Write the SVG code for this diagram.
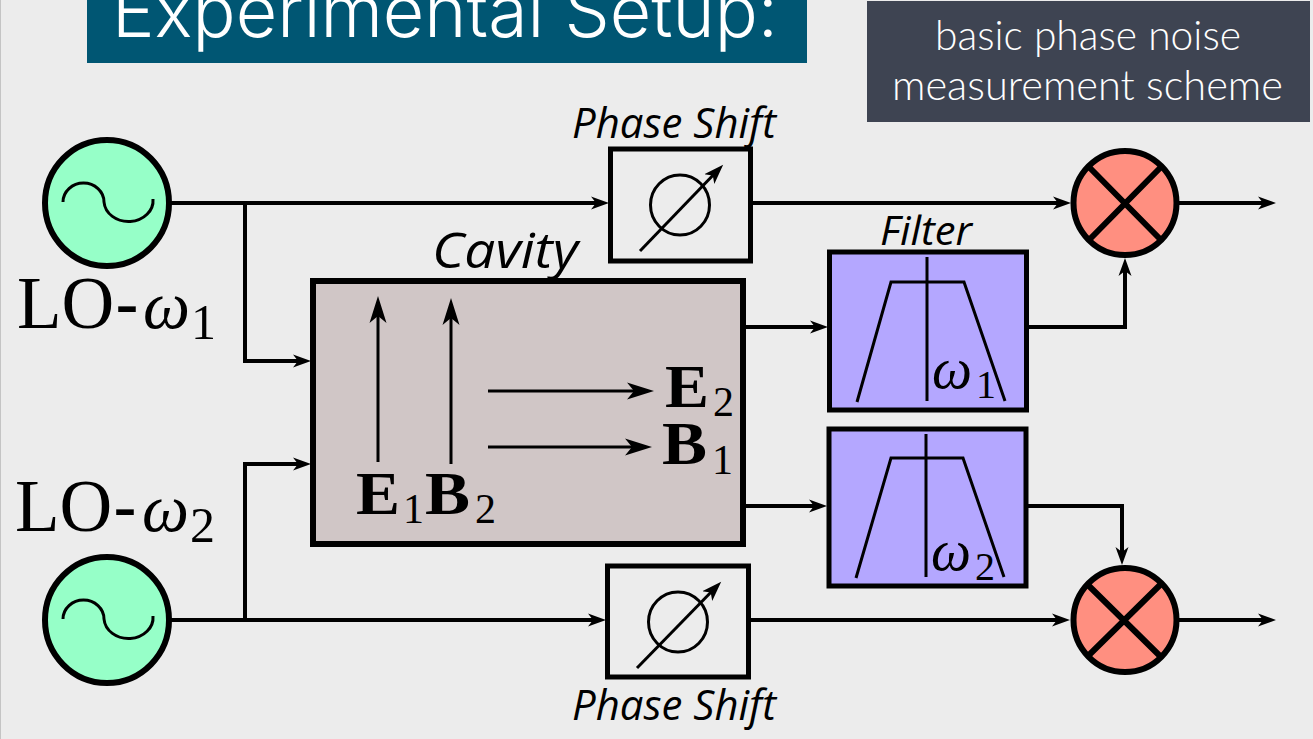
<svg xmlns="http://www.w3.org/2000/svg" width="1313" height="739" viewBox="0 0 1313 739">
<style>
.box{stroke:#000;stroke-width:5;fill:none}
.thick{stroke:#000;stroke-width:6}
.conn{fill:none;stroke:#000;stroke-width:4}
.thin{fill:none;stroke:#000;stroke-width:3}
.osc{fill:#96ffc8}
.mix{fill:#ff8f80}
.flt{fill:#b4a7ff}
.lab{font-family:"Open Sans","Liberation Sans",sans-serif;font-style:italic;fill:#000}
.ser{font-family:"Liberation Serif",serif;fill:#000}
.b{font-weight:bold}
.i{font-style:italic}
.cap{font-family:"Lato","Liberation Sans",sans-serif;font-weight:300;font-size:41px;fill:#fff}
</style>
<defs>
<marker id="a" markerUnits="userSpaceOnUse" markerWidth="20" markerHeight="14" refX="12" refY="7" orient="auto"><path d="M0,0.5 L18,7 L0,13.500 L5,7z"/></marker>
<marker id="big" markerUnits="userSpaceOnUse" markerWidth="28" markerHeight="20" refX="21" refY="10" orient="auto"><path d="M0,1.500 L27,10 L0,18.500 L7,10z"/></marker>
<marker id="mid" markerUnits="userSpaceOnUse" markerWidth="22" markerHeight="16" refX="14" refY="8" orient="auto"><path d="M0,1 L20,8 L0,15 L5,8z"/></marker>
</defs>
<rect width="1313" height="739" fill="#ececec"/>
<rect width="1" height="739" fill="#c4c4c4"/>
<g id="title"><rect x="87" y="0" width="720" height="63" fill="#005673"/>
<text x="112" y="37" font-family="Inter,'Liberation Sans',sans-serif" font-weight="300" font-size="72" fill="#fff" textLength="666" lengthAdjust="spacingAndGlyphs">Experimental Setup:</text></g>
<g id="caption"><rect x="867" y="1" width="443" height="121" fill="#3e4452"/>
<text class="cap" x="935" y="50" textLength="306" lengthAdjust="spacingAndGlyphs">basic phase noise</text>
<text class="cap" x="892" y="100" textLength="391" lengthAdjust="spacingAndGlyphs">measurement scheme</text></g>

<g id="connectors">
<path class="conn" marker-end="url(#a)" d="M169,203H603"/>
<path class="conn" marker-end="url(#a)" d="M245,203V361H305"/>
<path class="conn" marker-end="url(#a)" d="M169,620H600"/>
<path class="conn" marker-end="url(#a)" d="M245,620V464H305"/>
<path class="conn" marker-end="url(#a)" d="M751,203H1065"/>
<path class="conn" marker-end="url(#a)" d="M748,620H1064"/>
<path class="conn" marker-end="url(#a)" d="M743,327H822"/>
<path class="conn" marker-end="url(#a)" d="M743,506H821"/>
<path class="conn" marker-end="url(#a)" d="M1027,327H1125V264"/>
<path class="conn" marker-end="url(#a)" d="M1026,506H1122V559"/>
<path class="conn" marker-end="url(#a)" d="M1179,203H1270"/>
<path class="conn" marker-end="url(#a)" d="M1179,620H1270"/>
</g>

<g id="lo1"><ellipse class="osc thick" cx="107" cy="203" rx="62" ry="63"/>
<path class="thin" d="M63,202 A20.5,19 0 0 1 104,202 A24.5,21 0 0 0 153,199"/>
<text class="ser" x="17" y="328" font-size="73">LO</text>
<text x="115" y="328" font-family="Liberation Sans,sans-serif" font-size="72">-</text>
<text class="ser i" x="143" y="328" font-size="68" textLength="47" lengthAdjust="spacingAndGlyphs">ω</text>
<text class="ser" x="191" y="339" font-size="50">1</text></g>

<g id="lo2"><ellipse class="osc thick" cx="107" cy="620" rx="62" ry="63"/>
<path class="thin" d="M63,619 A20.5,19 0 0 1 104,619 A24.5,21 0 0 0 153,616"/>
<text class="ser" x="15" y="531" font-size="73">LO</text>
<text x="113" y="531" font-family="Liberation Sans,sans-serif" font-size="72">-</text>
<text class="ser i" x="142" y="531" font-size="68" textLength="47" lengthAdjust="spacingAndGlyphs">ω</text>
<text class="ser" x="190" y="542" font-size="50">2</text></g>

<g id="phase1"><rect class="box" x="610.500" y="149" width="140" height="112"/>
<ellipse class="thin" cx="680" cy="205" rx="29.500" ry="30"/>
<path class="thin" marker-end="url(#mid)" d="M640,251L719,169"/>
<text class="lab" x="572" y="138" font-size="42" textLength="204" lengthAdjust="spacingAndGlyphs">Phase Shift</text></g>

<g id="phase2"><rect class="box" x="607.500" y="566" width="141" height="111"/>
<ellipse class="thin" cx="678" cy="622" rx="29.500" ry="30"/>
<path class="thin" marker-end="url(#mid)" d="M637,668L717,586"/>
<text class="lab" x="572" y="720" font-size="42" textLength="204" lengthAdjust="spacingAndGlyphs">Phase Shift</text></g>

<g id="cavity"><rect class="thick" x="313" y="281" width="430" height="263" fill="#d0c6c6"/>
<text class="lab" x="432" y="268" font-size="50" textLength="146" lengthAdjust="spacingAndGlyphs">Cavity</text>
<path class="thin" marker-end="url(#big)" d="M378,462V302"/>
<path class="thin" marker-end="url(#big)" d="M451,464V304"/>
<path class="thin" marker-end="url(#big)" d="M488,391H648"/>
<path class="thin" marker-end="url(#big)" d="M488,447H646"/>
<text class="ser b" x="356" y="514" font-size="62" textLength="44" lengthAdjust="spacingAndGlyphs">E</text>
<text class="ser" x="403" y="523" font-size="42">1</text>
<text class="ser b" x="425" y="514" font-size="62" textLength="45" lengthAdjust="spacingAndGlyphs">B</text>
<text class="ser" x="475" y="523" font-size="42">2</text>
<text class="ser b" x="665" y="407" font-size="62" textLength="44" lengthAdjust="spacingAndGlyphs">E</text>
<text class="ser" x="713" y="416" font-size="42">2</text>
<text class="ser b" x="662" y="464" font-size="62" textLength="45" lengthAdjust="spacingAndGlyphs">B</text>
<text class="ser" x="712" y="474" font-size="42">1</text></g>

<g id="filter1"><rect class="flt box" x="829.500" y="252" width="197" height="158"/>
<path class="thin" d="M857,402L891,282H964L1005,401M927,257V401"/>
<text class="ser i" x="932" y="388" font-size="60" textLength="40" lengthAdjust="spacingAndGlyphs">ω</text>
<text class="ser" x="976" y="398" font-size="40">1</text>
<text class="lab" x="880" y="245" font-size="40" textLength="92" lengthAdjust="spacingAndGlyphs">Filter</text></g>

<g id="filter2"><rect class="flt box" x="829" y="429" width="197" height="157"/>
<path class="thin" d="M856,578L891,458H963L1004,577M926,434V577"/>
<text class="ser i" x="931" y="570" font-size="60" textLength="40" lengthAdjust="spacingAndGlyphs">ω</text>
<text class="ser" x="975" y="580" font-size="40">2</text></g>

<g id="mixer1"><ellipse class="mix thick" cx="1125" cy="203" rx="51.500" ry="52"/>
<path class="thick" d="M1089,167L1161,240M1161,167L1089,240"/></g>
<g id="mixer2"><ellipse class="mix thick" cx="1125" cy="620" rx="51.500" ry="52"/>
<path class="thick" d="M1087,584L1161,657M1161,584L1087,657"/></g>
</svg>
